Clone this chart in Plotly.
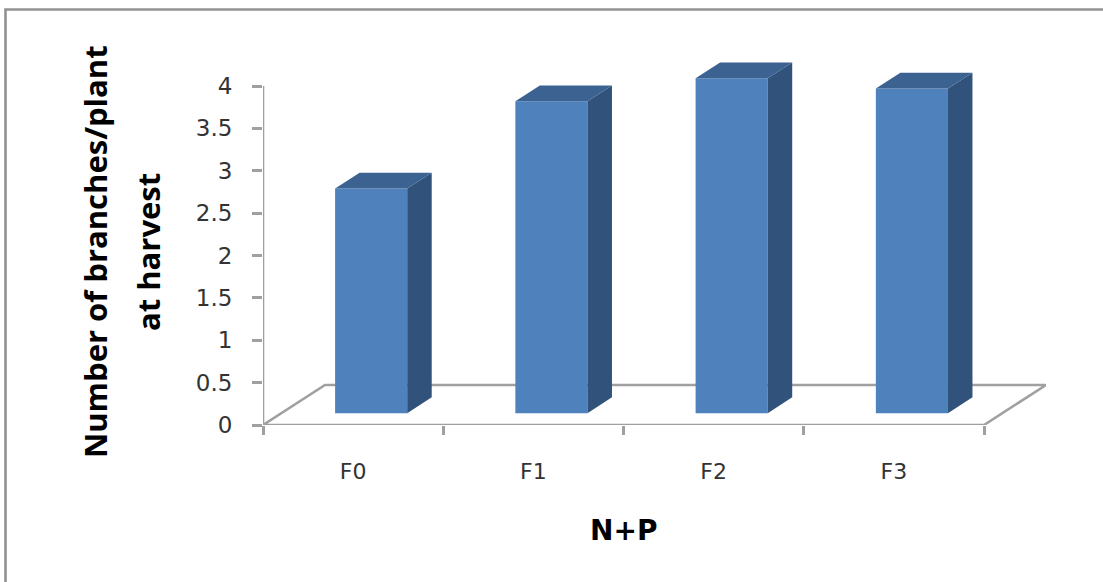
import plotly.graph_objects as go

# Data
categories = ["F0", "F1", "F2", "F3"]
values = [2.65, 3.68, 3.95, 3.83]
y_ticks = [0, 0.5, 1, 1.5, 2, 2.5, 3, 3.5, 4]
y_tick_labels = ["0", "0.5", "1", "1.5", "2", "2.5", "3", "3.5", "4"]
y_title_lines = ["Number of branches/plant", "at harvest"]
x_title = "N+P"

# Pseudo-3D geometry, in axis units
BAR_W = 0.4
BAR_SHIFT = 0.1
BAR_BASE = 0.14
DEPTH_X = 0.136
DEPTH_Y = 0.187
FLOOR_X = 0.344
FLOOR_Y = 0.472

FRONT = "#4F81BD"
SIDE = "#31527A"
TOP = "#3C6291"
GREY = "#A0A0A0"
BORDER = "#929292"
FONT_V = "Open Sans"
FONT_H = "DejaVu Sans"
TEXT = "#333333"

W, H = 1103, 582
L, R, T, B = 263, 57, 55, 157
px_x = 180.25
px_y = 84.75
xr = (W - L - R) / px_x
yr = (H - T - B) / px_y

centers = [i + 0.5 + BAR_SHIFT for i in range(len(categories))]

side_x, side_y, top_x, top_y = [], [], [], []
for c, v in zip(centers, values):
    right = c + BAR_W / 2
    left = c - BAR_W / 2
    high = BAR_BASE + v
    side_x += [right, right + DEPTH_X, right + DEPTH_X, right, right, None]
    side_y += [BAR_BASE, BAR_BASE + DEPTH_Y, high + DEPTH_Y, high, BAR_BASE, None]
    top_x += [left, left + DEPTH_X, right + DEPTH_X, right, left, None]
    top_y += [high, high + DEPTH_Y, high + DEPTH_Y, high, high, None]

fig = go.Figure()
fig.add_trace(go.Bar(x=centers, y=values, base=BAR_BASE, width=BAR_W,
                     marker=dict(color=FRONT, line=dict(width=0)), hoverinfo="skip"))
fig.add_trace(go.Scatter(x=side_x, y=side_y, mode="lines", fill="toself", fillcolor=SIDE,
                         line=dict(width=0, color=SIDE), hoverinfo="skip"))
fig.add_trace(go.Scatter(x=top_x, y=top_y, mode="lines", fill="toself", fillcolor=TOP,
                         line=dict(width=0, color=TOP), hoverinfo="skip"))

n = len(categories)
line = dict(color=GREY, width=2.6)
shapes = [
    # floor
    dict(type="path", xref="x", yref="y", layer="below", line=line,
         path=f"M 0 0 L {FLOOR_X} {FLOOR_Y} L {n + FLOOR_X} {FLOOR_Y} L {n} 0 Z"),
    # value axis line
    dict(type="line", xref="x", yref="y", layer="below", line=line,
         x0=0, x1=0, y0=0, y1=max(y_ticks)),
    # outer frame, open on the right and bottom
    dict(type="path", xref="paper", yref="paper", line=dict(color=BORDER, width=2.6),
         path=(f"M {(5.5 - L) / (W - L - R)} {-(B + 10) / (H - T - B)} "
               f"L {(5.5 - L) / (W - L - R)} {(H - B - 9.5) / (H - T - B)} "
               f"L {(W + 10 - L) / (W - L - R)} {(H - B - 9.5) / (H - T - B)}")),
]

annotations = [
    dict(text=f"<b>{y_title_lines[0]}</b>", xref="paper", yref="paper", x=(95 - L) / (W - L - R),
         y=(H - B - 252) / (H - T - B), textangle=-90, showarrow=False,
         font=dict(family=FONT_V, size=31, color="black"), xanchor="center", yanchor="middle"),
    dict(text=f"<b>{y_title_lines[1]}</b>", xref="paper", yref="paper", x=(148 - L) / (W - L - R),
         y=(H - B - 252) / (H - T - B), textangle=-90, showarrow=False,
         font=dict(family=FONT_V, size=31, color="black"), xanchor="center", yanchor="middle"),
    dict(text=f"<b>{x_title}</b>", xref="paper", yref="paper", x=(623 - L) / (W - L - R),
         y=(H - B - 530) / (H - T - B), showarrow=False,
         font=dict(family=FONT_H, size=28, color="black"), xanchor="center", yanchor="middle"),
]

fig.update_layout(
    width=W, height=H, autosize=False,
    margin=dict(l=L, r=R, t=T, b=B, pad=0),
    paper_bgcolor="white", plot_bgcolor="rgba(0,0,0,0)",
    showlegend=False, barmode="overlay",
    shapes=shapes, annotations=annotations,
    xaxis=dict(range=[0, xr], showgrid=False, zeroline=False, showline=False,
               tickmode="array", tickvals=[i + 0.5 for i in range(n)], ticktext=categories,
               ticks="", ticklabelstandoff=31,
               tickfont=dict(family=FONT_H, size=22, color=TEXT),
               minor=dict(tickmode="array", tickvals=list(range(n + 1)), ticks="outside",
                          ticklen=9, tickwidth=2.6, tickcolor=GREY, showgrid=False)),
    yaxis=dict(range=[0, yr], showgrid=False, zeroline=False, showline=False,
               tickmode="array", tickvals=y_ticks, ticktext=y_tick_labels,
               ticks="outside", ticklen=10, tickwidth=2.6, tickcolor=GREY,
               ticklabelstandoff=15,
               tickfont=dict(family=FONT_H, size=23, color=TEXT)),
)

fig.write_html(
    "out.html",
    config=dict(displayModeBar=False),
    post_script="document.body.style.margin='0';document.documentElement.style.overflow='hidden';",
)
